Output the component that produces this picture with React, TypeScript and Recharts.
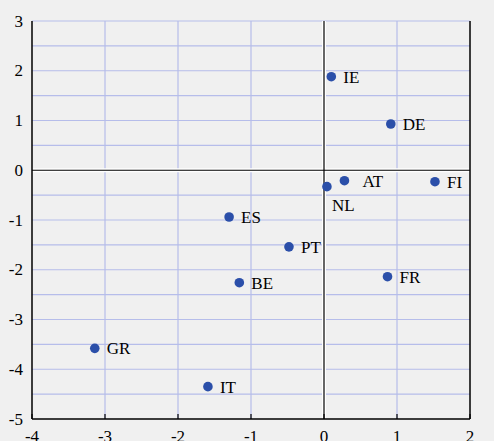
import React from "react";
import { ScatterChart, Scatter, XAxis, YAxis, ReferenceLine } from "recharts";

// country positions
const countries = ["IE", "DE", "FI", "AT", "NL", "ES", "PT", "FR", "BE", "GR", "IT"];
const xValues = [0.1, 0.915, 1.52, 0.28, 0.04, -1.3, -0.48, 0.87, -1.16, -3.14, -1.59];
const yValues = [1.88, 0.93, -0.23, -0.21, -0.33, -0.94, -1.54, -2.14, -2.26, -3.58, -4.35];

const xTicks = [-4, -3, -2, -1, 0, 1, 2];
const yTicks = [-5, -4, -3, -2, -1, 0, 1, 2, 3];
const gridX = [-3, -2, -1, 1];
const gridY = [-4.5, -4, -3.5, -3, -2.5, -2, -1.5, -1, -0.5, 0.5, 1, 1.5, 2, 2.5, 3];

const data = countries.map((name, i) => ({ name, x: xValues[i], y: yValues[i] }));

// label placement tweaks (most labels sit to the right of the dot)
const labelShift: Record<string, { dx: number; dy: number }> = {
  NL: { dx: 5, dy: 24 },
  AT: { dx: 18, dy: 6 },
};

const textStyle = { fontFamily: "'Liberation Serif', 'Times New Roman', serif", fontSize: 17 };
const GRID = "#b6bdea";
const DOT = "#2b4fa9";

function BottomTick(props: any) {
  const { x, y, payload } = props;
  return (
    <g>
      <line x1={x} y1={y} x2={x} y2={y - 5} stroke="#000" strokeWidth={1.2} />
      <text x={x} y={y + 23} textAnchor="middle" style={textStyle} fill="#000">
        {payload.value}
      </text>
    </g>
  );
}

function LeftTick(props: any) {
  const { x, y, payload } = props;
  return (
    <text x={x - 9} y={y + 5.5} textAnchor="end" style={textStyle} fill="#000">
      {payload.value}
    </text>
  );
}

function RightTick(props: any) {
  const { x, y, payload } = props;
  return (
    <text x={x + 21} y={y + 5.5} textAnchor="end" style={textStyle} fill="#000">
      {payload.value}
    </text>
  );
}

function Dot(props: any) {
  const { cx, cy, payload } = props;
  const s = labelShift[payload.name] ?? { dx: 12, dy: 6 };
  return (
    <g>
      <circle cx={cx} cy={cy} r={4.8} fill={DOT} />
      <text x={cx + s.dx} y={cy + s.dy} style={textStyle} fill="#000">
        {payload.name}
      </text>
    </g>
  );
}

export default function App() {
  return (
    <div style={{ position: "absolute", left: 0, top: 0, width: 494, height: 441, background: "#f0f0f0" }}>
      <ScatterChart width={494} height={441} margin={{ top: 21, right: 0, bottom: 0, left: 0 }}>
        <XAxis
          type="number"
          dataKey="x"
          domain={[-4, 2]}
          ticks={xTicks}
          height={22}
          tickSize={0}
          tickMargin={0}
          tickLine={false}
          axisLine={{ stroke: "#000", strokeWidth: 1.5 }}
          tick={<BottomTick />}
          interval={0}
        />
        <YAxis
          yAxisId="left"
          type="number"
          dataKey="y"
          domain={[-5, 3]}
          ticks={yTicks}
          width={32}
          tickSize={0}
          tickMargin={0}
          tickLine={false}
          axisLine={{ stroke: "#000", strokeWidth: 1.5 }}
          tick={<LeftTick />}
          interval={0}
        />
        <YAxis
          yAxisId="right"
          orientation="right"
          type="number"
          domain={[-5, 3]}
          ticks={yTicks}
          width={24}
          tickSize={0}
          tickMargin={0}
          tickLine={false}
          axisLine={{ stroke: "#000", strokeWidth: 1.5 }}
          tick={<RightTick />}
          interval={0}
        />
        {gridY.map((v) => (
          <ReferenceLine key={"gy" + v} yAxisId="left" y={v} stroke={GRID} strokeWidth={1.2} />
        ))}
        {gridX.map((v) => (
          <ReferenceLine key={"gx" + v} yAxisId="left" x={v} stroke={GRID} strokeWidth={1.2} />
        ))}
        <ReferenceLine yAxisId="left" y={0} stroke="#fff" strokeWidth={4} />
        <ReferenceLine yAxisId="left" x={0} stroke="#fff" strokeWidth={4} />
        <ReferenceLine yAxisId="left" y={0} stroke="#000" strokeWidth={1.2} />
        <ReferenceLine yAxisId="left" x={0} stroke="#000" strokeWidth={1.2} />
        <Scatter yAxisId="left" data={data} shape={<Dot />} isAnimationActive={false} />
      </ScatterChart>
    </div>
  );
}
